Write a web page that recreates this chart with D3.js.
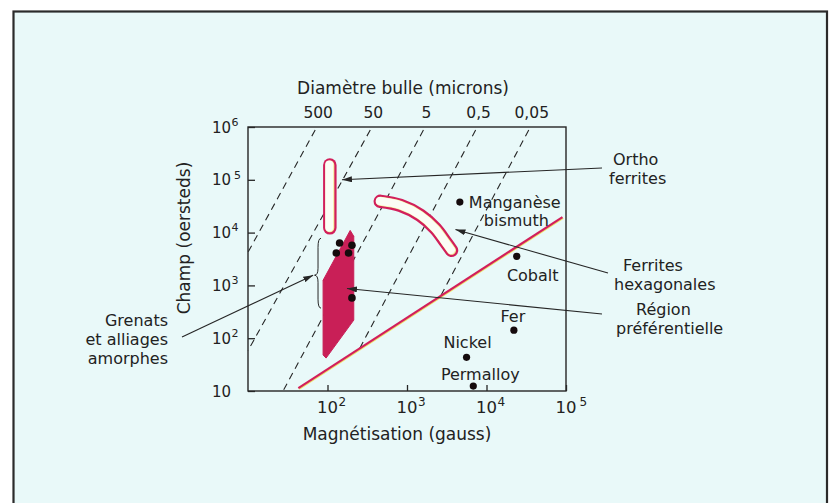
<!DOCTYPE html>
<html>
<head>
<meta charset="utf-8">
<script src="https://cdn.jsdelivr.net/npm/d3@7"></script>
<style>
  body { margin: 0; background: #fff; }
  svg { display: block; }
  text { font-family: 'DejaVu Sans', sans-serif; fill: #222; }
</style>
</head>
<body>
<div id="chart"></div>
<script>
const materials = ['Manganèse', 'Cobalt', 'Fer', 'Nickel', 'Permalloy'];
const matM = [4620, 24000, 22100, 5610, 6820];
const matH = [37900, 3560, 142, 43.4, 12.4];

const garnetM = [142, 203, 129, 184, 203];
const garnetH = [6360, 5750, 4110, 4110, 580];

// "region preferentielle" outline
const regionM = [193, 214, 214, 96, 88, 88];
const regionH = [11000, 8510, 220, 42, 48, 1250];

// centre lines of the two bands
const orthoM = [107, 107];
const orthoH = [12300, 191000];
const hexM = [462, 826, 1476, 2280, 3050, 3630];
const hexH = [39100, 32800, 21200, 11900, 6640, 4620];

// stability limit
const limitM = [43, 90300];
const limitH = [11.3, 19700];

// lines of constant bubble diameter (microns)
const bubbleLabels = ['500', '50', '5', '0,5', '0,05'];
const bubbleTopM = [70, 345, 1610, 7300, 34000]; // where each meets 10^6 Oe
const bubbleEndM = [10, 10, 27.6, 251, 2640];
const bubbleEndH = [4250, 58, 10, 62, 625];

const yTicks = [10, 1e2, 1e3, 1e4, 1e5, 1e6];
const xTicks = [1e2, 1e3, 1e4, 1e5];

const width = 834;
const height = 503;

const x = d3.scaleLog().domain([10, 1e5]).range([248, 566]);
const y = d3.scaleLog().domain([10, 1e6]).range([391, 127]);

const red = '#d21f5b';
const ink = '#262626';

const svg = d3
  .select('#chart')
  .append('svg')
  .attr('width', width)
  .attr('height', height);

svg
  .append('defs')
  .append('marker')
  .attr('id', 'arrow')
  .attr('viewBox', '0 0 10 6')
  .attr('refX', 10)
  .attr('refY', 3)
  .attr('markerWidth', 10)
  .attr('markerHeight', 6)
  .attr('markerUnits', 'userSpaceOnUse')
  .attr('orient', 'auto')
  .append('path')
  .attr('d', 'M0,0L10,3L0,6Z')
  .attr('fill', ink);

// page frame
svg
  .append('rect')
  .attr('x', 13.5)
  .attr('y', 11.5)
  .attr('width', 813.5)
  .attr('height', 520)
  .attr('fill', '#e9f9f9')
  .attr('stroke', '#2b2b2b')
  .attr('stroke-width', 2.2);

// dashed iso-diameter lines
const bubbles = bubbleLabels.map((l, i) => ({
  label: l,
  top: [bubbleTopM[i], 1e6],
  end: [bubbleEndM[i], bubbleEndH[i]],
}));

svg
  .append('g')
  .selectAll('line')
  .data(bubbles)
  .join('line')
  .attr('x1', (d) => x(d.top[0]))
  .attr('y1', (d) => y(d.top[1]) + 3)
  .attr('x2', (d) => x(d.end[0]))
  .attr('y2', (d) => y(d.end[1]))
  .attr('stroke', ink)
  .attr('stroke-width', 1.1)
  .attr('stroke-dasharray', '7,5');

svg
  .append('g')
  .selectAll('text')
  .data(bubbles)
  .join('text')
  .attr('x', (d) => x(d.top[0]) + 3)
  .attr('y', 118)
  .attr('text-anchor', 'middle')
  .attr('font-size', 15.5)
  .text((d) => d.label);

svg
  .append('text')
  .attr('x', 403)
  .attr('y', 94)
  .attr('text-anchor', 'middle')
  .attr('font-size', 17)
  .text('Diamètre bulle (microns)');

// limit line
const line = d3
  .line()
  .x((d) => x(d[0]))
  .y((d) => y(d[1]));

const limit = limitM.map((m, i) => [m, limitH[i]]);
svg
  .append('path')
  .attr('d', line(limit))
  .attr('transform', 'translate(0.8,1)')
  .attr('stroke', '#efe36a')
  .attr('stroke-width', 1.4)
  .attr('fill', 'none');
svg
  .append('path')
  .attr('d', line(limit))
  .attr('stroke', red)
  .attr('stroke-width', 2.2)
  .attr('fill', 'none');

// preferred region
svg
  .append('path')
  .attr('d', line(regionM.map((m, i) => [m, regionH[i]])) + 'Z')
  .attr('fill', '#c91f57')
  .attr('stroke', '#c91f57')
  .attr('stroke-width', 1)
  .attr('stroke-linejoin', 'round');

// outlined bands (ortho ferrites, hexagonal ferrites)
const band = (pts, curve) => {
  const p = d3
    .line()
    .curve(curve)
    .x((d) => x(d[0]))
    .y((d) => y(d[1]))(pts);
  const g = svg.append('g').attr('fill', 'none').attr('stroke-linecap', 'round');
  g.append('path').attr('d', p).attr('stroke', red).attr('stroke-width', 13.5);
  g.append('path').attr('d', p).attr('stroke', '#f3ee9c').attr('stroke-width', 9);
  g.append('path')
    .attr('d', p)
    .attr('stroke', '#fbfdf5')
    .attr('stroke-width', 8)
    .attr('transform', 'translate(-0.6,-0.4)');
};

band(
  orthoM.map((m, i) => [m, orthoH[i]]),
  d3.curveLinear
);
band(
  hexM.map((m, i) => [m, hexH[i]]),
  d3.curveCatmullRom
);

// garnet dots
svg
  .append('g')
  .selectAll('circle')
  .data(garnetM.map((m, i) => [m, garnetH[i]]))
  .join('circle')
  .attr('cx', (d) => x(d[0]))
  .attr('cy', (d) => y(d[1]))
  .attr('r', 3.8)
  .attr('fill', '#150b0d');

// materials
const mats = materials.map((name, i) => ({ name, m: matM[i], h: matH[i] }));
svg
  .append('g')
  .selectAll('circle')
  .data(mats)
  .join('circle')
  .attr('cx', (d) => x(d.m))
  .attr('cy', (d) => y(d.h))
  .attr('r', 3.6)
  .attr('fill', '#150b0d');

// label offsets from each point (dx, dy, anchor)
const matLabelPos = {
  Manganèse: [9, 6, 'start'],
  Cobalt: [16, 25, 'middle'],
  Fer: [-1, -8, 'middle'],
  Nickel: [1, -9, 'middle'],
  Permalloy: [7, -6, 'middle'],
};

svg
  .append('g')
  .selectAll('text')
  .data(mats)
  .join('text')
  .attr('x', (d) => x(d.m) + matLabelPos[d.name][0])
  .attr('y', (d) => y(d.h) + matLabelPos[d.name][1])
  .attr('text-anchor', (d) => matLabelPos[d.name][2])
  .attr('font-size', 16)
  .text((d) => d.name);

svg
  .append('text')
  .attr('x', x(matM[0]) + 24)
  .attr('y', y(matH[0]) + 24)
  .attr('font-size', 16)
  .text('bismuth');

// brace beside the garnet region
{
  const bx = x(76);
  const t = y(7800);
  const b = y(371);
  const c = y(1560);
  svg
    .append('path')
    .attr(
      'd',
      `M${bx + 3},${t}Q${bx},${t} ${bx},${t + 9}L${bx},${c - 7}Q${bx},${c} ${bx - 3.5},${c}` +
        `Q${bx},${c} ${bx},${c + 7}L${bx},${b - 9}Q${bx},${b} ${bx + 3},${b}`
    )
    .attr('fill', 'none')
    .attr('stroke', ink)
    .attr('stroke-width', 1);
}

// frame of the plot
svg
  .append('rect')
  .attr('x', x(10))
  .attr('y', y(1e6))
  .attr('width', x(1e5) - x(10))
  .attr('height', y(10) - y(1e6))
  .attr('fill', 'none')
  .attr('stroke', ink)
  .attr('stroke-width', 1.4);

const sup = (sel, big, small) => {
  sel.each(function (d) {
    const e = Math.round(Math.log10(d));
    const t = d3.select(this).text('');
    t.append('tspan').attr('font-size', big).text('10');
    if (e > 1)
      t.append('tspan')
        .attr('font-size', small)
        .attr('dy', -big * 0.45)
        .attr('dx', d === 1e5 ? 3 : 0.5)
        .text(e);
  });
};

const yAxis = svg
  .append('g')
  .attr('transform', `translate(${x(10)},0)`)
  .call(d3.axisLeft(y).tickValues(yTicks).tickSize(-7).tickSizeOuter(0));
yAxis.select('.domain').remove();
yAxis.selectAll('line').attr('stroke', ink).attr('stroke-width', 1.3);
yAxis
  .selectAll('text')
  .attr('x', -36)
  .attr('dy', 5)
  .attr('text-anchor', 'start')
  .attr('fill', '#222')
  .call(sup, 15, 11);

const xAxis = svg
  .append('g')
  .attr('transform', `translate(0,${y(10)})`)
  .call(d3.axisBottom(x).tickValues(xTicks).tickSize(-6).tickSizeOuter(0));
xAxis.select('.domain').remove();
xAxis.selectAll('line').attr('stroke', ink).attr('stroke-width', 1.3);
xAxis
  .selectAll('text')
  .attr('x', -11)
  .attr('y', 22)
  .attr('dy', 0)
  .attr('text-anchor', 'start')
  .attr('fill', '#222')
  .call(sup, 16.5, 12);

svg
  .append('text')
  .attr('x', 397)
  .attr('y', 440)
  .attr('text-anchor', 'middle')
  .attr('font-size', 17)
  .text('Magnétisation (gauss)');

svg
  .append('text')
  .attr('transform', 'translate(190,238) rotate(-90)')
  .attr('text-anchor', 'middle')
  .attr('font-size', 17)
  .text('Champ (oersteds)');

// annotations with arrows
const notes = [
  { lines: ['Ortho', 'ferrites'], xs: [613, 609], ys: [165, 184], anchor: 'start', tail: [602, 168], tip: [152, 1.0e5] },
  { lines: ['Ferrites', 'hexagonales'], xs: [623, 614], ys: [271, 290], anchor: 'start', tail: [608, 273], tip: [4070, 11400] },
  { lines: ['Région', 'préférentielle'], xs: [636, 616], ys: [315, 334], anchor: 'start', tail: [602, 314], tip: [176, 873] },
  { lines: ['Grenats', 'et alliages', 'amorphes'], xs: [168, 168, 168], ys: [326, 345, 364], anchor: 'end', tail: [182, 337], tip: [66, 1560] },
];

notes.forEach((n) => {
  svg
    .append('line')
    .attr('x1', n.tail[0])
    .attr('y1', n.tail[1])
    .attr('x2', x(n.tip[0]))
    .attr('y2', y(n.tip[1]))
    .attr('stroke', ink)
    .attr('stroke-width', 1.1)
    .attr('marker-end', 'url(#arrow)');
  n.lines.forEach((l, i) => {
    svg
      .append('text')
      .attr('x', n.xs[i])
      .attr('y', n.ys[i])
      .attr('text-anchor', n.anchor)
      .attr('font-size', 16)
      .text(l);
  });
});
</script>
</body>
</html>
